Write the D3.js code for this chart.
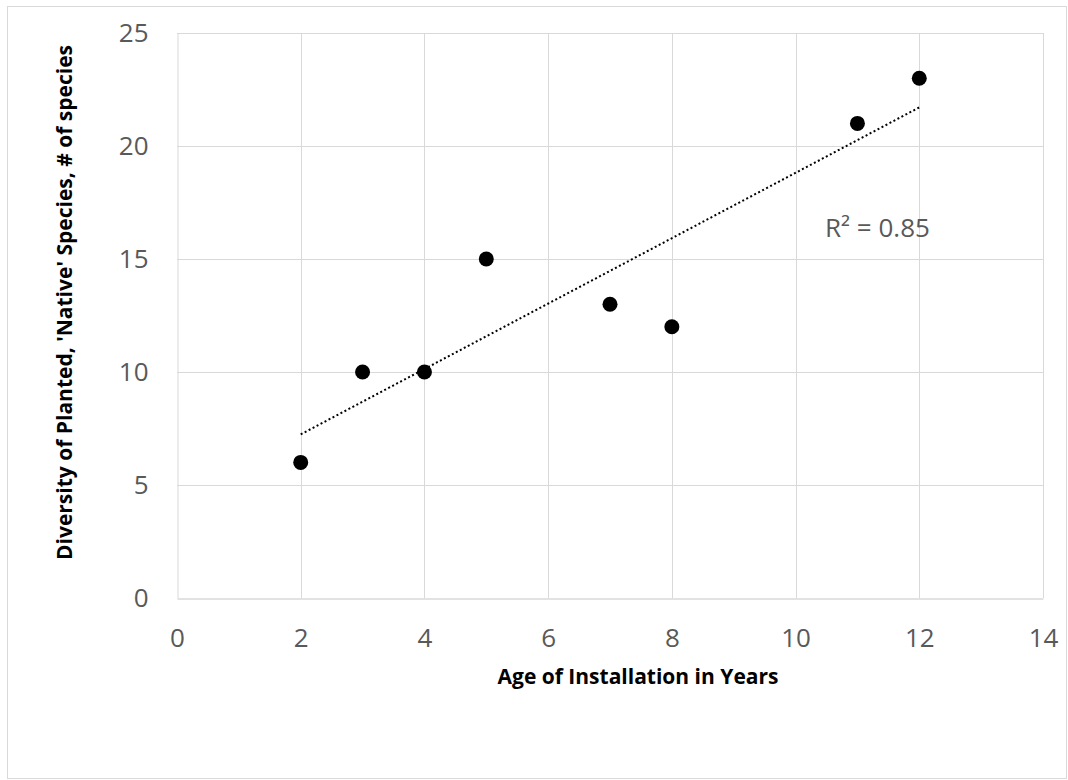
<!DOCTYPE html>
<html>
<head>
<meta charset="utf-8">
<script src="https://cdn.jsdelivr.net/npm/d3@7"></script>
<style>
  body { margin: 0; background: #fff; }
  text { font-family: "Open Sans", "Noto Sans", sans-serif; }
</style>
</head>
<body>
<div id="wrapper"></div>
<script>
// data
const ages = [2, 3, 4, 5, 7, 8, 11, 12]
const species = [6, 10, 10, 15, 13, 12, 21, 23]
const xTicks = [0, 2, 4, 6, 8, 10, 12, 14]
const yTicks = [0, 5, 10, 15, 20, 25]
const rSquaredLabel = "R² = 0.85"

function drawScatter() {
  const data = ages.map((a, i) => ({ age: a, n: species[i] }))
  const xAccessor = d => d.age
  const yAccessor = d => d.n

  const dimensions = {
    width: 1068,
    height: 780,
    margin: { top: 33, right: 25, bottom: 182, left: 177 }
  }
  dimensions.boundedWidth = dimensions.width - dimensions.margin.left - dimensions.margin.right
  dimensions.boundedHeight = dimensions.height - dimensions.margin.top - dimensions.margin.bottom

  const wrapper = d3.select("#wrapper")
    .append("svg")
    .attr("width", dimensions.width)
    .attr("height", dimensions.height)

  // outer chart border
  wrapper.append("rect")
    .attr("x", 7.5)
    .attr("y", 6.5)
    .attr("width", dimensions.width - 9)
    .attr("height", dimensions.height - 8)
    .attr("fill", "none")
    .attr("stroke", "#d9d9d9")

  const bounds = wrapper.append("g")
    .attr("transform", `translate(${dimensions.margin.left},${dimensions.margin.top})`)

  const xScale = d3.scaleLinear()
    .domain([0, 14])
    .range([0, dimensions.boundedWidth])

  const yScale = d3.scaleLinear()
    .domain([0, 25])
    .range([dimensions.boundedHeight, 0])

  // gridlines
  bounds.append("g")
    .selectAll("line")
    .data(xTicks.slice(1))
    .enter().append("line")
      .attr("x1", d => Math.round(xScale(d)) + 0.5)
      .attr("x2", d => Math.round(xScale(d)) + 0.5)
      .attr("y1", 0)
      .attr("y2", dimensions.boundedHeight)
      .attr("stroke", "#d9d9d9")

  bounds.append("g")
    .selectAll("line")
    .data(yTicks.slice(1))
    .enter().append("line")
      .attr("x1", 0)
      .attr("x2", dimensions.boundedWidth)
      .attr("y1", d => Math.round(yScale(d)) + 0.5)
      .attr("y2", d => Math.round(yScale(d)) + 0.5)
      .attr("stroke", "#d9d9d9")

  // axes
  const xAxisGenerator = d3.axisBottom(xScale)
    .tickValues(xTicks)
    .tickSize(0)
    .tickPadding(30)

  const xAxis = bounds.append("g")
    .attr("transform", `translate(0,${dimensions.boundedHeight + 0.5})`)
    .call(xAxisGenerator)
  xAxis.select(".domain").attr("stroke", "#d9d9d9").attr("stroke-width", 1.5)
  xAxis.selectAll("text")
    .attr("fill", "#595959")
    .style("font-size", "26px")
    .style("font-family", "'Open Sans', sans-serif")

  const yAxisGenerator = d3.axisLeft(yScale)
    .tickValues(yTicks)
    .tickSize(0)
    .tickPadding(29)

  const yAxis = bounds.append("g")
    .attr("transform", "translate(0.5,0)")
    .call(yAxisGenerator)
  yAxis.select(".domain").attr("stroke", "#d9d9d9")
  yAxis.selectAll("text")
    .attr("fill", "#595959")
    .style("font-size", "26px")
    .style("font-family", "'Open Sans', sans-serif")

  // axis titles
  bounds.append("text")
    .attr("x", dimensions.boundedWidth / 2 + 28)
    .attr("y", dimensions.boundedHeight + 86)
    .attr("text-anchor", "middle")
    .attr("fill", "#000")
    .style("font-size", "21px")
    .style("font-weight", "bold")
    .text("Age of Installation in Years")

  bounds.append("text")
    .attr("transform", `translate(${-105},${dimensions.boundedHeight / 2 - 13}) rotate(-90)`)
    .attr("text-anchor", "middle")
    .attr("fill", "#000")
    .style("font-size", "21px")
    .style("font-weight", "bold")
    .text("Diversity of Planted, 'Native' Species, # of species")

  // linear trendline (least squares)
  const mx = d3.mean(data, xAccessor)
  const my = d3.mean(data, yAccessor)
  const slope = d3.sum(data, d => (xAccessor(d) - mx) * (yAccessor(d) - my)) /
    d3.sum(data, d => (xAccessor(d) - mx) ** 2)
  const intercept = my - slope * mx
  const [x0, x1] = d3.extent(data, xAccessor)

  bounds.append("line")
    .attr("x1", xScale(x0))
    .attr("y1", yScale(intercept + slope * x0))
    .attr("x2", xScale(x1))
    .attr("y2", yScale(intercept + slope * x1))
    .attr("stroke", "#000")
    .attr("stroke-width", 2)
    .attr("stroke-dasharray", "2,2.5")

  bounds.selectAll("circle")
    .data(data)
    .enter().append("circle")
      .attr("cx", d => xScale(xAccessor(d)))
      .attr("cy", d => yScale(yAccessor(d)))
      .attr("r", 7.5)
      .attr("fill", "#000")

  bounds.append("text")
    .attr("x", 648)
    .attr("y", 204)
    .attr("fill", "#595959")
    .style("font-size", "26px")
    .text(rSquaredLabel)
}

drawScatter()
</script>
</body>
</html>
